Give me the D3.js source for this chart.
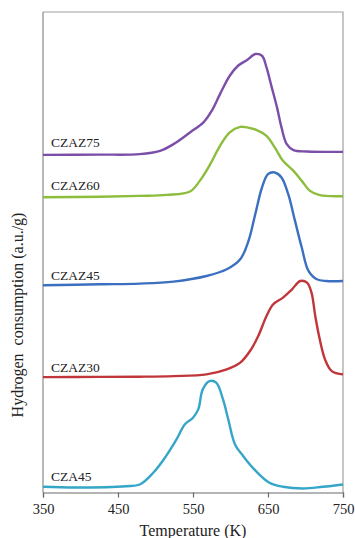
<!DOCTYPE html>
<html>
<head>
<meta charset="utf-8">
<script src="https://cdn.jsdelivr.net/npm/d3@7"></script>
<style>
  body { margin: 0; background: #fff; }
  svg { display: block; }
</style>
</head>
<body>
<svg id="chart" width="355" height="538"></svg>
<script>
// Temperature ticks (K)
const xTicks = [350, 450, 550, 650, 750];

// Each series: [temperature K, signal a.u. (offset stacked)]
const czaz75 = [[350,337.3],[426,337.5],[479,338],[506,341.3],[524,348],[546,359.7],[564,369.7],
  [575,381.3],[586,398],[599,416.3],[610,426.3],[622,432],[633,438],[642,436.3],[648,424.7],
  [655,404.7],[662,384.7],[668,364.7],[675,348],[684,342],[702,340.7],[750,340.3]];
const czaz60 = [[350,295],[426,295.5],[479,296.3],[515,297.3],[546,300.7],[559,311.3],[573,328],
  [586,346.3],[599,359.7],[613,365.3],[622,364.7],[635,362],[648,356.3],[659,344.7],[670,331.3],
  [684,321.3],[695,311.3],[706,301.3],[719,297],[750,296]];
const czaz45 = [[350,207],[426,208],[479,208.7],[524,210.7],[568,216.3],[595,223],[613,233],
  [624,251.3],[633,278],[642,304.7],[650,318],[659,319.7],[668,314.7],[677,298],[686,271.3],
  [695,244.7],[704,221.3],[715,213],[728,211.3],[750,211.3]];
const czaz30 = [[350,115.3],[426,115.5],[479,115.7],[524,116.3],[568,118],[595,123],[613,129.7],
  [626,141.3],[637,156.3],[648,176.3],[657,188],[670,194.7],[682,203],[693,211.3],[702,209.7],
  [708,199.7],[713,176.3],[719,153],[726,133],[735,121.3],[750,118]];
const cza45 = [[350,5.7],[394,5],[461,6.3],[479,8],[497,19.7],[514,36.3],[528,53],[539,68],
  [550,74.7],[557,83],[563,103],[572,111.3],[581,109.7],[590,93],[597,73],[606,48],[617,36.3],
  [634,21.3],[652,9.7],[670,5.7],[697,4],[723,5.7],[750,8]];

const seriesNames = ["CZAZ75", "CZAZ60", "CZAZ45", "CZAZ30", "CZA45"];
const seriesData = [czaz75, czaz60, czaz45, czaz30, cza45];
const seriesColors = ["#7b4ea8", "#8dbd3c", "#3b70c0", "#c0363a", "#35a6c8"];
// label baseline offset above each curve's starting level (a.u.)
const labelLift = [8, 7, 5, 5, 6];

const serif = "'Liberation Serif', 'Times New Roman', 'DejaVu Serif', serif";

const margin = { top: 12, right: 12, bottom: 45, left: 43 };
const width = 355, height = 538;

const svg = d3.select("#chart");

const x = d3.scaleLinear().domain([350, 750]).range([margin.left, width - margin.right]);
const y = d3.scaleLinear().domain([0, 480]).range([height - margin.bottom - 0.5, margin.top]);

// Frame (top and right)
svg.append("path")
  .attr("d", `M${x(350)},${y(480)}H${x(750)}V${y(0)}`)
  .attr("fill", "none")
  .attr("stroke", "#a0a0a0")
  .attr("stroke-width", 1.2);

// Left axis line
svg.append("line")
  .attr("x1", x(350)).attr("x2", x(350))
  .attr("y1", y(480)).attr("y2", y(0))
  .attr("stroke", "#8a8a8a")
  .attr("stroke-width", 1.2);

// Bottom axis
const xAxis = svg.append("g")
  .attr("transform", `translate(0,${y(0)})`)
  .call(d3.axisBottom(x).tickValues(xTicks).tickSize(5).tickPadding(6).tickFormat(d3.format("d")));
xAxis.attr("font-family", serif).attr("font-size", 14.5);
xAxis.select(".domain").attr("stroke", "#6a6a6a").attr("stroke-width", 1.2);
xAxis.selectAll(".tick line").attr("stroke", "#6a6a6a").attr("stroke-width", 1.2);
xAxis.selectAll(".tick text").attr("fill", "#222");

// Curves
const line = d3.line()
  .x(d => x(d[0]))
  .y(d => y(d[1]))
  .curve(d3.curveCatmullRom.alpha(0.5));

seriesData.forEach((data, i) => {
  svg.append("path")
    .datum(data)
    .attr("fill", "none")
    .attr("stroke", seriesColors[i])
    .attr("stroke-width", 2.4)
    .attr("stroke-linejoin", "round")
    .attr("d", line);

  svg.append("text")
    .attr("x", x(350) + 8)
    .attr("y", y(data[0][1] + labelLift[i]))
    .attr("font-family", serif)
    .attr("font-size", 13.5)
    .attr("fill", "#222")
    .text(seriesNames[i]);
});

// Axis titles
svg.append("text")
  .attr("x", 193)
  .attr("y", 536)
  .attr("text-anchor", "middle")
  .attr("font-family", serif)
  .attr("font-size", 16)
  .attr("fill", "#222")
  .text("Temperature (K)");

svg.append("text")
  .attr("transform", "translate(23,315) rotate(-90)")
  .attr("text-anchor", "middle")
  .attr("font-family", serif)
  .attr("font-size", 16)
  .attr("fill", "#222")
  .attr("xml:space", "preserve")
  .text("Hydrogen  consumption (a.u./g)");
</script>
</body>
</html>
